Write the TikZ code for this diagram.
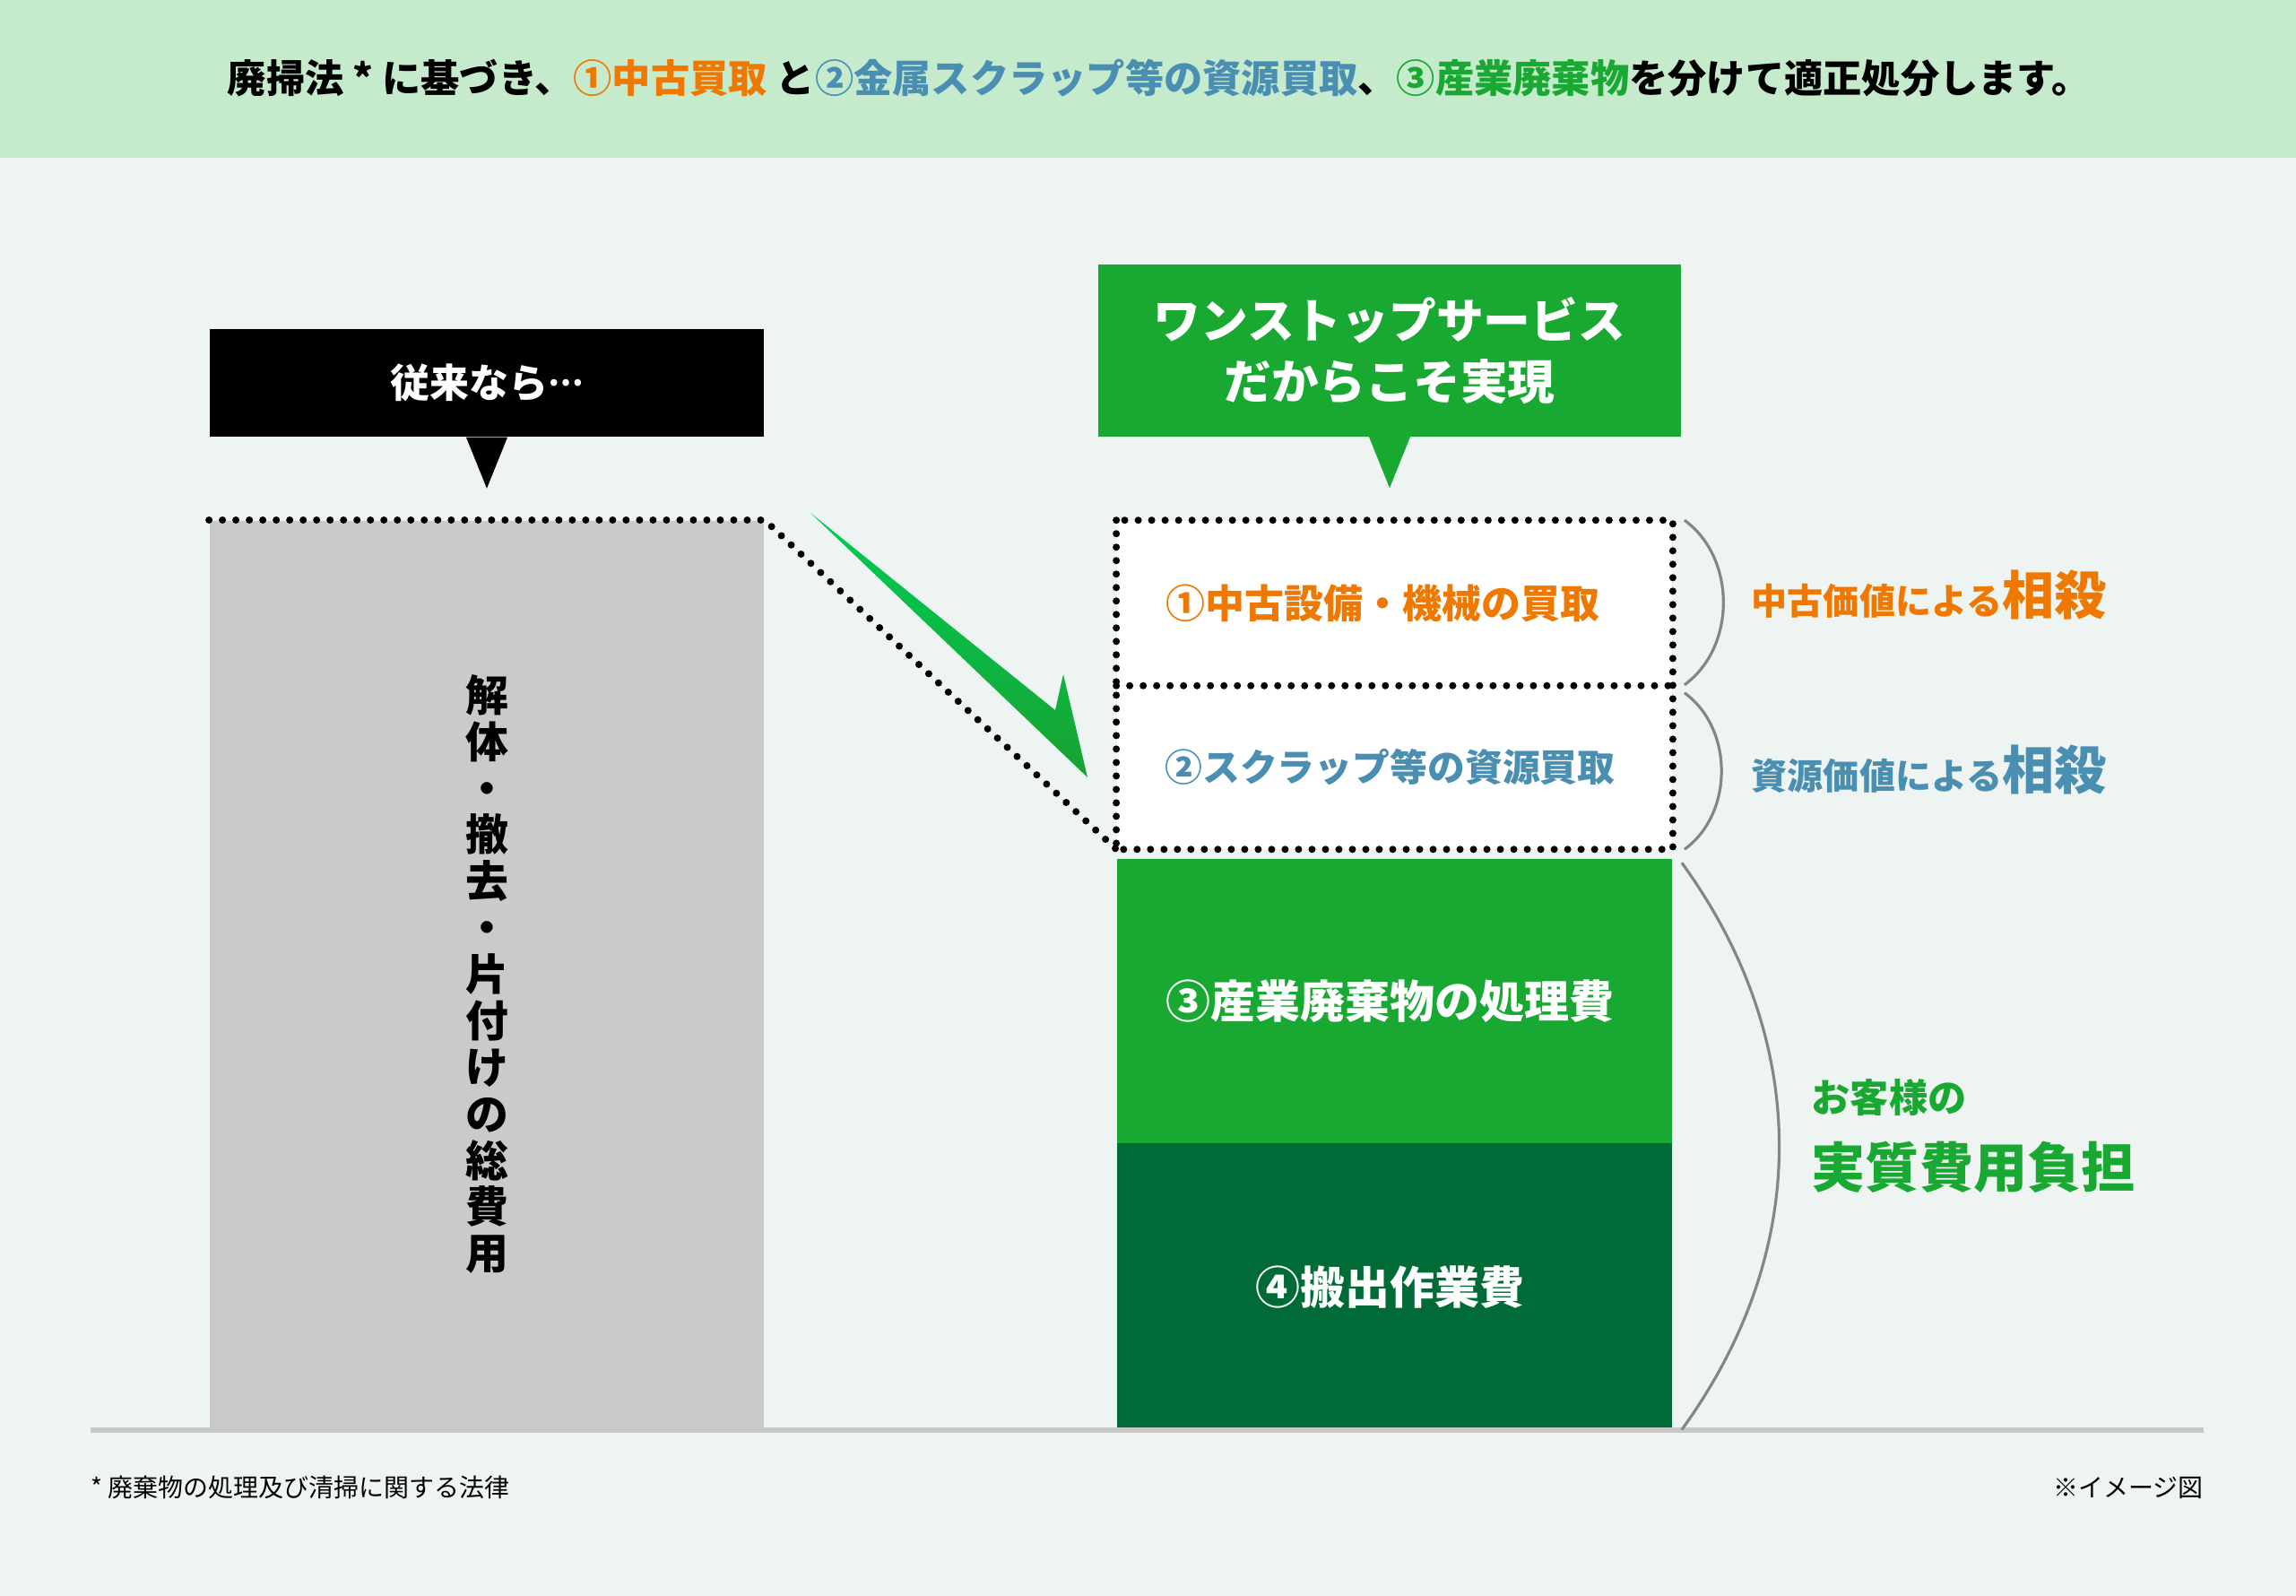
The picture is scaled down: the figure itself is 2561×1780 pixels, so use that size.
\documentclass[tikz,border=0pt]{standalone}
\usepackage{fontspec}
\setmainfont{Noto Sans CJK JP}
\usetikzlibrary{positioning}
\definecolor{headbg}{HTML}{C5EACC}
\definecolor{pagebg}{HTML}{EEF4F1}
\definecolor{barGray}{HTML}{CACACA}
\definecolor{lineGray}{HTML}{C8C8C8}
\definecolor{braceGray}{HTML}{858585}
\definecolor{mainGreen}{HTML}{19A832}
\definecolor{darkGreen}{HTML}{006B37}
\definecolor{usedOrange}{HTML}{EE7800}
\definecolor{scrapBlue}{HTML}{4A8EB2}
\definecolor{arrowLight}{HTML}{00CC55}
\definecolor{arrowDark}{HTML}{18A232}
\begin{document}
\begin{tikzpicture}[x=0.01cm, y=-0.01cm,
    callout/.style={inner sep=0pt, text=white},
    block/.style={minimum width=6.19cm, inner sep=0pt},
    dotline/.style={line width=0.8mm, line cap=round, dash pattern=on 0pt off 1.5mm},
    brace/.style={braceGray, line width=0.9pt},
    side/.style={anchor=base west, inner sep=0pt, font=\bfseries\fontsize{11.4pt}{14pt}\selectfont},
    note/.style={inner sep=0pt, font=\fontsize{7.95pt}{10pt}\selectfont}]
    \useasboundingbox (0,0) rectangle (2561,1780);
    \fill[pagebg] (0,0) rectangle (2561,1780);
    \fill[headbg] (0,0) rectangle (2561,176);

    \node[font=\bfseries\fontsize{12.3pt}{14pt}\selectfont] (title) at (1293,87) {廃掃法 * に基づき、\textcolor{usedOrange}{①中古買取} と\textcolor{scrapBlue}{②金属スクラップ等の資源買取}、\textcolor{mainGreen}{③産業廃棄物}を分けて適正処分します。};

    \node[callout, fill=black, minimum width=6.18cm, minimum height=1.2cm, font=\bfseries\fontsize{12.5pt}{15pt}\selectfont] (old) at (543,427) {従来なら\raisebox{0.3em}{\fontsize{10pt}{12pt}\selectfont …}};
    \fill (old.south) ++(-23,0) -- ++(23,57) -- ++(23,-57) -- cycle;
    \node[callout, fill=mainGreen, minimum width=6.49cm, minimum height=1.91cm, align=center, font=\bfseries\fontsize{15pt}{19.3pt}\selectfont] (onestop) at (1550,391) {ワンストップサービス\\だからこそ実現};
    \fill[mainGreen] (onestop.south) ++(-23,0) -- ++(23,57) -- ++(23,-57) -- cycle;

    \node[block, fill=barGray, minimum width=6.18cm, minimum height=10.11cm, align=center, font=\bfseries\fontsize{13.6pt}{14.75pt}\selectfont] (total) at (543,1086.5) {解\\体\\・\\撤\\去\\・\\片\\付\\け\\の\\総\\費\\用};

    \node[block, fill=white, minimum height=1.83cm, text=usedOrange, font=\bfseries\fontsize{12.5pt}{15pt}\selectfont] (b1) at (1555.5,672.5) {①中古設備・機械の買取\hspace*{2.6mm}};
    \node[block, fill=white, minimum height=1.81cm, text=scrapBlue, font=\bfseries\fontsize{11.9pt}{15pt}\selectfont, below=0pt of b1] (b2) {②スクラップ等の資源買取\hspace*{1mm}};
    \node[block, fill=mainGreen, minimum height=3.17cm, text=white, font=\bfseries\fontsize{14.2pt}{17pt}\selectfont, below=0.1cm of b2] (b3) {③産業廃棄物の処理費\hspace*{1mm}};
    \node[block, fill=darkGreen, minimum height=3.22cm, text=white, font=\bfseries\fontsize{14.2pt}{17pt}\selectfont, below=-0.02cm of b3] (b4) {④搬出作業費\hspace*{1mm}};

    \draw[dotline] (total.north west) -- (total.north east) -- (b2.south west);
    \draw[dotline] (b1.north west) rectangle (b2.south east);
    \draw[dotline] (b1.south west) -- (b1.south east);

    \shade[top color=arrowLight, bottom color=arrowDark] (904,572) -- (1177,792) -- (1186,752) -- (1213,867) -- cycle;

    \fill[lineGray] (101,1592) rectangle (2458,1598);

    \draw[brace] ([xshift=0.13cm]b1.north east) to[bend left=54] ([xshift=0.13cm, yshift=0.01cm]b1.south east);
    \draw[brace] ([xshift=0.13cm, yshift=-0.08cm]b2.north east) to[bend left=54] ([xshift=0.13cm]b2.south east);
    \draw[brace] ([xshift=0.1cm, yshift=-0.05cm]b3.north east) to[bend left=36] ([xshift=0.1cm, yshift=0.03cm]b4.south east);

    \node[side, text=usedOrange] (offset1) at (1953,686) {中古価値による{\fontsize{16.5pt}{18pt}\selectfont 相殺}};
    \node[side, text=scrapBlue] (offset2) at (1953,881) {資源価値による{\fontsize{16.5pt}{18pt}\selectfont 相殺}};
    \node[side, text=mainGreen, font=\bfseries\fontsize{12.3pt}{14pt}\selectfont] (cust) at (2020,1240) {お客様の};
    \node[side, text=mainGreen, font=\bfseries\fontsize{17.1pt}{20pt}\selectfont] (burden) at (2020,1324) {実質費用負担};

    \node[note, anchor=west] (law) at (101,1659) {* 廃棄物の処理及び清掃に関する法律};
    \node[note, anchor=east] (image) at (2458,1659) {※イメージ図};
\end{tikzpicture}
\end{document}
